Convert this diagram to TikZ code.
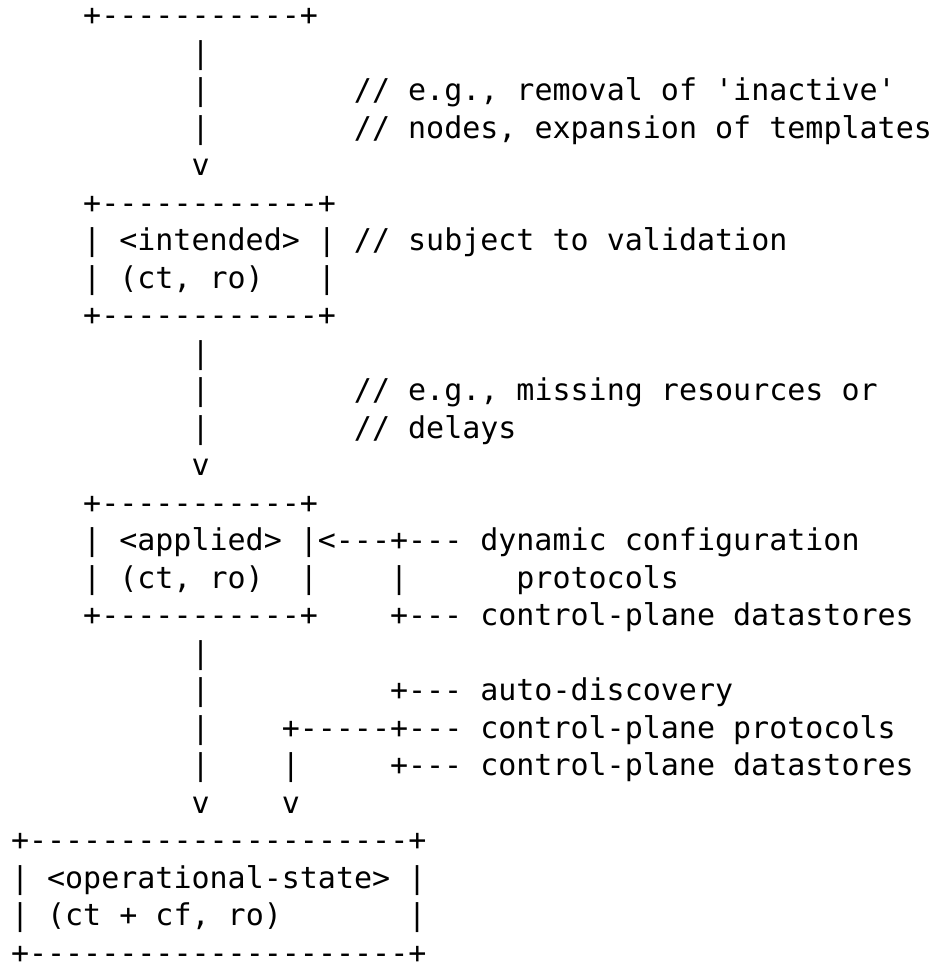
\documentclass[tikz,border=0pt]{standalone}
\usepackage{fontspec}
\setmonofont{DejaVu Sans Mono}
\tikzset{t/.style={anchor=base west,inner sep=0pt,outer sep=0pt,text depth=0pt,font=\ttfamily\fontsize{30}{36}\selectfont,text=black}}
\newcommand\cell[4]{\node[t] (#1) at ({11+#2*18.05},{944-#3*37.5}) {#4};}
\begin{document}
\frenchspacing
\begin{tikzpicture}[x=1pt,y=1pt]
\useasboundingbox (0,0) rectangle (939,970);
\cell{a0}{4}{0}{+-----------+}
\cell{a1}{10}{1}{|}
\cell{a2}{10}{2}{|}
\cell{c2}{19}{2}{// e.g., removal of 'inactive'}
\cell{a3}{10}{3}{|}
\cell{c3}{19}{3}{// nodes, expansion of templates}
\cell{a4}{10}{4}{v}
\cell{b5}{4}{5}{+------------+}
\cell{b6l}{4}{6}{|}
\cell{int}{6}{6}{<intended>}
\cell{b6r}{17}{6}{|}
\cell{c6}{19}{6}{// subject to validation}
\cell{b7l}{4}{7}{|}
\cell{int2}{6}{7}{(ct, ro)}
\cell{b7r}{17}{7}{|}
\cell{b8}{4}{8}{+------------+}
\cell{a9}{10}{9}{|}
\cell{a10}{10}{10}{|}
\cell{c10}{19}{10}{// e.g., missing resources or}
\cell{a11}{10}{11}{|}
\cell{c11}{19}{11}{// delays}
\cell{a12}{10}{12}{v}
\cell{d13}{4}{13}{+-----------+}
\cell{d14l}{4}{14}{|}
\cell{app}{6}{14}{<applied>}
\cell{d14r}{16}{14}{|<---+---}
\cell{e14}{26}{14}{dynamic configuration}
\cell{d15l}{4}{15}{|}
\cell{app2}{6}{15}{(ct, ro)}
\cell{d15r}{16}{15}{|}
\cell{f15}{21}{15}{|}
\cell{e15}{28}{15}{protocols}
\cell{d16}{4}{16}{+-----------+}
\cell{f16}{21}{16}{+---}
\cell{e16}{26}{16}{control-plane datastores}
\cell{a17}{10}{17}{|}
\cell{a18}{10}{18}{|}
\cell{f18}{21}{18}{+---}
\cell{e18}{26}{18}{auto-discovery}
\cell{a19}{10}{19}{|}
\cell{f19}{15}{19}{+-----+---}
\cell{e19}{26}{19}{control-plane protocols}
\cell{a20}{10}{20}{|}
\cell{g20}{15}{20}{|}
\cell{f20}{21}{20}{+---}
\cell{e20}{26}{20}{control-plane datastores}
\cell{a21}{10}{21}{v}
\cell{g21}{15}{21}{v}
\cell{o22}{0}{22}{+---------------------+}
\cell{o23l}{0}{23}{|}
\cell{op}{2}{23}{<operational-state>}
\cell{o23r}{22}{23}{|}
\cell{o24l}{0}{24}{|}
\cell{op2}{2}{24}{(ct + cf, ro)}
\cell{o24r}{22}{24}{|}
\cell{o25}{0}{25}{+---------------------+}
\end{tikzpicture}
\end{document}
